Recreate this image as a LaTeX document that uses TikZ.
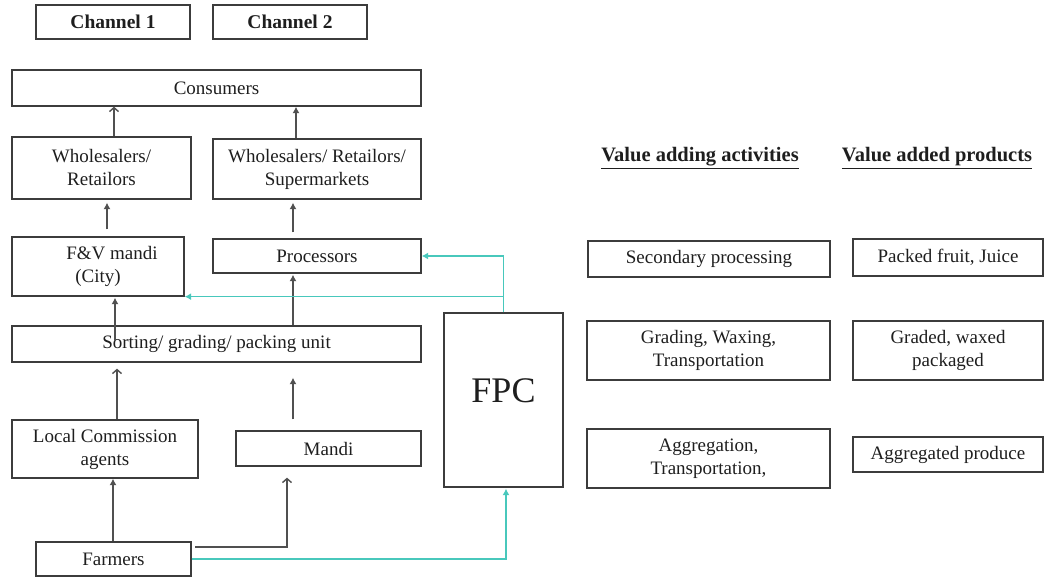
\documentclass[tikz,border=0pt]{standalone}
\usepackage{fontspec}
\setmainfont{Liberation Serif}
\usetikzlibrary{arrows.meta,calc}
\definecolor{ln}{RGB}{60,60,60}
\definecolor{al}{RGB}{80,80,80}
\definecolor{tx}{RGB}{30,30,30}
\definecolor{tq}{RGB}{72,200,188}
\tikzset{
  box/.style={draw=ln, line width=1.3pt, inner sep=0pt, align=center, text=tx, font=\fontsize{19}{23}\selectfont},
  hbox/.style={box, font=\fontsize{19.5}{23}\selectfont\bfseries},
  fl/.style={draw=al, line width=1.4pt, -{Latex[length=6.5pt,width=7pt]}},
  op/.style={draw=al, line width=1.4pt, -{Straight Barb[length=4pt,width=9pt]}},
  cy/.style={draw=tq, line width=1.4pt, -{Latex[length=6.5pt,width=7pt]}},
  head/.style={inner sep=0pt, text=tx, font=\fontsize{20.5}{24}\selectfont\bfseries}
}
\begin{document}
\begin{tikzpicture}[x=1pt,y=-1pt]
\useasboundingbox (0,0) rectangle (1057,577);
% headings
\node[hbox, minimum width=154pt, minimum height=34pt] (ch1) at (113,22) {Channel 1};
\node[hbox, minimum width=154pt, minimum height=34pt] (ch2) at (290,22) {Channel 2};
% channel boxes
\node[box, minimum width=409pt, minimum height=36pt] (cons) at (216.5,88) {Consumers};
\node[box, minimum width=179pt, minimum height=62pt] (wr) at (101.5,168) {Wholesalers/\\Retailors};
\node[box, minimum width=208pt, minimum height=60pt] (wrs) at (317,169) {Wholesalers/ Retailors/\\Supermarkets};
\node[box, minimum width=172pt, minimum height=59pt] (fv) at (98,266.5) {\hspace*{28pt}F\&V mandi\\(City)};
\node[box, minimum width=208pt, minimum height=34pt] (proc) at (317,256) {Processors};
\node[box, minimum width=409pt, minimum height=36pt] (sort) at (216.5,344) {Sorting/ grading/ packing unit};
\node[box, minimum width=119pt, minimum height=174pt, font=\fontsize{36}{40}\selectfont] (fpc) at (503.5,400) {\raisebox{18pt}{FPC}};
\node[box, minimum width=186pt, minimum height=58pt] (lca) at (105,449) {Local Commission\\agents};
\node[box, minimum width=185pt, minimum height=35pt] (mandi) at (328.5,448.5) {Mandi};
\node[box, minimum width=155pt, minimum height=34pt] (farm) at (113.5,559) {Farmers};
% right side
\node[head, anchor=base] (vaa) at (700,162) {\underline{Value adding activities}};
\node[head, anchor=base] (vap) at (937,162) {\underline{Value added products}};
\node[box, minimum width=242pt, minimum height=36pt] (sec) at (709,259) {Secondary processing};
\node[box, minimum width=190pt, minimum height=37pt] (pack) at (948,257.5) {Packed fruit, Juice};
\node[box, minimum width=243pt, minimum height=59pt] (grad) at (708.5,350.5) {Grading, Waxing,\\Transportation};
\node[box, minimum width=190pt, minimum height=59pt] (gwp) at (948,350.5) {Graded, waxed\\packaged};
\node[box, minimum width=243pt, minimum height=59pt] (aggr) at (708.5,458.5) {Aggregation,\\Transportation,};
\node[box, minimum width=190pt, minimum height=35pt] (aggp) at (948,454.5) {Aggregated produce};
% x positions of connectors
\coordinate (xa) at (114,0);
\coordinate (xb) at (296,0);
\coordinate (xc) at (107,0);
\coordinate (xd) at (293,0);
\coordinate (xe) at (115,0);
\coordinate (xf) at (117,0);
\coordinate (xg) at (113,0);
\coordinate (xh) at (287,0);
\coordinate (xi) at (506,0);
\coordinate (fm) at (195,547);
% connectors
\draw[op] (wr.north -| xa) -- (cons.south -| xa);
\draw[fl] (wrs.north -| xb) -- (cons.south -| xb);
\draw[fl, shorten <=7pt, shorten >=3pt] (fv.north -| xc) -- (wr.south -| xc);
\draw[fl, shorten <=6pt, shorten >=3pt] (proc.north -| xd) -- (wrs.south -| xd);
\draw[fl, shorten <=-16pt, shorten >=1pt] (sort.north -| xe) -- (fv.south -| xe);
\draw[fl, shorten >=1pt] (sort.north -| xd) -- (proc.south -| xd);
\draw[op, shorten >=6pt] (lca.north -| xf) -- (sort.south -| xf);
\draw[fl, shorten <=11pt, shorten >=15pt] (mandi.north -| xd) -- (sort.south -| xd);
\draw[fl] (farm.north -| xg) -- (lca.south -| xg);
\draw[op, shorten >=11pt] (fm) -| (mandi.south -| xh);
\draw[cy, shorten >=1pt] (farm.east) -| (fpc.south -| xi);
\draw[cy] (fpc.north) |- (proc.east);
\draw[cy] (fpc.north) |- (fv.south east);
\end{tikzpicture}
\end{document}
